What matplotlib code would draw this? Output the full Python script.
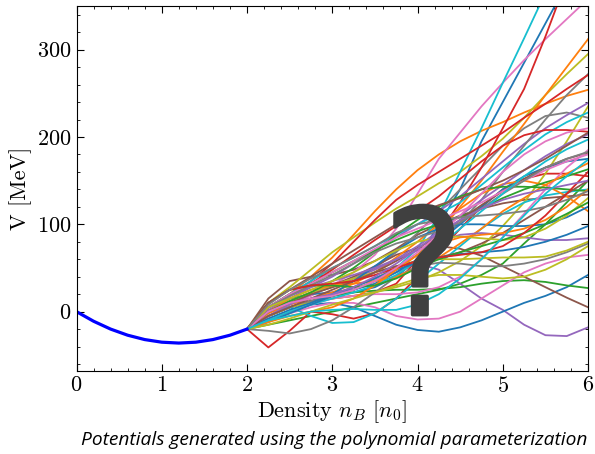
import numpy as np
import matplotlib.pyplot as plt
import matplotlib.patheffects as pe
from matplotlib.ticker import MultipleLocator

plt.rcParams['font.family'] = 'serif'
plt.rcParams['font.serif'] = ['cmr10']
plt.rcParams['mathtext.fontset'] = 'cm'
plt.rcParams['axes.formatter.use_mathtext'] = True

# low-density part of the potential (fixed)
nb_low = [0.0, 0.2, 0.4, 0.6, 0.8, 1.0, 1.2, 1.4, 1.6, 1.8, 2.0]
v_low = [0, -11, -20, -27, -32, -35, -36, -35, -32, -27, -20]

# sampled high-density potentials, n_B = 2.0 ... 6.0 in steps of 0.25
nb_high = np.linspace(2.0, 6.0, 17)

# order follows the default colour cycle: blue, orange, green, red, purple,
# brown, pink, gray, olive, cyan
potentials = [
    # group 1
    [-20, -5, 5, 12, 18, 22, 28, 40, 60, 100, 140, 195, 240, 285, 330, 375, 420],
    [-20, 5, 20, 40, 62, 88, 115, 140, 162, 180, 195, 207, 217, 228, 238, 247, 254],
    [-20, -15, -10, -5, 0, 5, 10, 15, 20, 25, 32, 42, 55, 78, 100, 125, 150],
    [-20, -41, -22, 0, -3, -8, -2, 15, 40, 68, 95, 120, 140, 152, 158, 158, 155],
    [-20, -10, 0, 10, 18, 25, 35, 45, 55, 48, 32, 15, 2, -15, -27, -28, -18],
    [-20, 15, 35, 40, 42, 48, 58, 72, 88, 100, 110, 118, 124, 128, 130, 132, 134],
    [-20, -5, 8, 18, 30, 45, 65, 95, 135, 175, 205, 235, 262, 288, 312, 335, 358],
    [-20, 0, 10, 20, 28, 38, 50, 68, 90, 115, 140, 165, 190, 210, 224, 228, 222],
    [-20, 10, 28, 48, 68, 85, 102, 118, 132, 147, 160, 178, 198, 222, 248, 272, 295],
    [-20, -5, 5, 12, 18, 25, 35, 50, 72, 110, 160, 210, 262, 313, 365, 415, 465],
    # group 2
    [-20, -10, 0, 8, 10, 5, -5, -15, -21, -23, -18, -10, 0, 10, 18, 28, 42],
    [-20, -5, 5, 12, 18, 25, 35, 48, 65, 90, 120, 150, 183, 215, 248, 280, 312],
    [-20, -5, 5, 12, 18, 22, 24, 25, 25, 26, 28, 32, 35, 36, 34, 30, 27],
    [-20, -5, 5, 12, 15, 18, 22, 32, 60, 90, 125, 165, 210, 255, 315, 380, 450],
    [-20, 2, 15, 28, 40, 55, 70, 85, 100, 115, 132, 152, 172, 192, 210, 225, 239],
    [-20, 0, 12, 22, 30, 40, 52, 65, 73, 75, 72, 64, 52, 40, 28, 16, 5],
    [-20, -10, -2, 5, 10, 10, 5, -5, -9, -8, 0, 15, 30, 45, 55, 62, 65],
    [-20, -5, 5, 12, 20, 28, 38, 50, 65, 82, 102, 128, 160, 190, 220, 248, 272],
    [-20, -5, 5, 10, 15, 18, 22, 28, 35, 45, 58, 75, 98, 125, 158, 195, 235],
    [-20, 0, 5, -5, -13, -12, -2, 15, 35, 55, 75, 95, 112, 125, 133, 137, 140],
    # group 3
    [-20, 5, 15, 20, 22, 25, 32, 45, 60, 80, 100, 120, 140, 155, 165, 172, 175],
    [-20, -2, 8, 15, 22, 32, 45, 62, 80, 100, 118, 135, 146, 150, 145, 132, 115],
    [-20, 5, 20, 32, 45, 58, 70, 82, 92, 100, 108, 118, 130, 140, 148, 155, 163],
    [-20, 5, 20, 35, 55, 80, 105, 128, 145, 160, 175, 190, 205, 222, 238, 255, 271],
    [-20, -5, 8, 20, 30, 38, 48, 60, 75, 92, 110, 128, 145, 162, 178, 192, 203],
    [-20, 0, 10, 20, 28, 35, 45, 58, 72, 88, 105, 122, 138, 152, 165, 175, 182],
    [-20, -8, 0, 8, 15, 18, 20, 20, 22, 28, 40, 60, 85, 112, 140, 165, 185],
    [-20, -22, -25, -20, -10, 5, 22, 40, 52, 56, 55, 52, 52, 55, 60, 68, 78],
    [-20, 0, 12, 22, 30, 38, 45, 52, 58, 60, 60, 61, 62, 62, 63, 70, 80],
    [-20, 5, 20, 35, 50, 62, 75, 88, 100, 112, 125, 145, 165, 185, 203, 217, 228],
    # group 4
    [-20, -8, 2, 10, 20, 35, 52, 70, 85, 95, 100, 100, 98, 98, 100, 108, 120],
    [-20, 0, 15, 25, 30, 32, 35, 40, 50, 62, 78, 95, 115, 130, 145, 158, 170],
    [-20, 0, 12, 22, 35, 50, 68, 88, 105, 120, 132, 140, 143, 143, 142, 140, 138],
    [-20, 5, 18, 32, 48, 65, 82, 98, 115, 132, 152, 172, 190, 202, 208, 208, 206],
    [-20, 5, 18, 28, 35, 42, 50, 60, 70, 80, 88, 90, 88, 85, 82, 82, 84],
    [-20, -5, 5, 15, 25, 35, 45, 52, 58, 62, 68, 78, 90, 105, 120, 135, 150],
    [-20, 5, 20, 32, 45, 58, 72, 85, 95, 105, 115, 125, 138, 150, 162, 172, 180],
    [-20, 5, 18, 30, 42, 55, 68, 78, 85, 92, 102, 118, 135, 150, 165, 175, 183],
    [-20, 5, 15, 25, 35, 45, 58, 70, 80, 85, 86, 84, 82, 85, 95, 110, 130],
    [-20, -10, 0, 8, 15, 22, 30, 42, 58, 75, 95, 115, 135, 155, 172, 186, 197],
    # group 5
    [-20, -12, -2, 8, 18, 28, 38, 48, 56, 62, 66, 68, 70, 74, 80, 88, 98],
    [-20, -12, -5, 0, 5, 15, 30, 48, 65, 78, 85, 88, 90, 95, 105, 120, 140],
    [-20, 10, 25, 30, 30, 28, 30, 38, 50, 60, 68, 75, 82, 90, 100, 112, 125],
    [-20, 10, 25, 30, 32, 35, 42, 50, 58, 62, 65, 68, 75, 90, 110, 135, 160],
    [-20, 0, 10, 15, 20, 28, 40, 55, 72, 90, 105, 118, 128, 135, 140, 145, 150],
    [-20, 10, 25, 40, 55, 70, 85, 100, 112, 122, 130, 140, 150, 162, 175, 190, 205],
    [-20, 0, 10, 15, 18, 25, 35, 50, 68, 88, 110, 135, 160, 180, 195, 205, 210],
    [-20, 8, 25, 38, 50, 62, 75, 90, 100, 105, 108, 110, 112, 115, 120, 128, 138],
    [-20, -15, -8, 0, 8, 15, 22, 30, 38, 42, 42, 40, 38, 40, 48, 60, 75],
    [-20, -10, -5, 0, 2, 3, 2, 2, 8, 20, 38, 60, 85, 110, 135, 155, 174],
]

fig = plt.figure(figsize=(5.95, 4.54), dpi=100)
ax = fig.add_axes([0.1286, 0.1828, 0.8597, 0.8040])

for v in potentials:
    ax.plot(nb_high, v, lw=1.3)
ax.plot(nb_low, v_low, color='blue', lw=2.3)

ax.set_xlim(0, 6)
ax.set_ylim(-68, 350)
ax.xaxis.set_major_locator(MultipleLocator(1))
ax.xaxis.set_minor_locator(MultipleLocator(0.2))
ax.yaxis.set_major_locator(MultipleLocator(100))
ax.yaxis.set_minor_locator(MultipleLocator(20))
ax.tick_params(which='both', direction='in', top=True, right=True, labelsize=16)
ax.tick_params(which='major', length=5)
ax.tick_params(which='minor', length=2.5)

ax.set_xlabel(r'Density $n_B$ $[n_0]$', fontsize=16, labelpad=2)
ax.set_ylabel('V [MeV]', fontsize=16, labelpad=4)

# big question mark over the unknown high-density region
ax.text(4.07, -3.5, '?', fontsize=106, fontweight='normal', family='DejaVu Sans',
        color='#404040', ha='center', va='baseline',
        path_effects=[pe.withStroke(linewidth=2.5, foreground='#404040')])

fig.text(334.5 / 595, 1 - 440 / 454,
         'Potentials generated using the polynomial parameterization',
         family='Open Sans', style='italic', fontsize=13.8,
         ha='center', va='center')

fig.savefig('out.png', dpi=100)
